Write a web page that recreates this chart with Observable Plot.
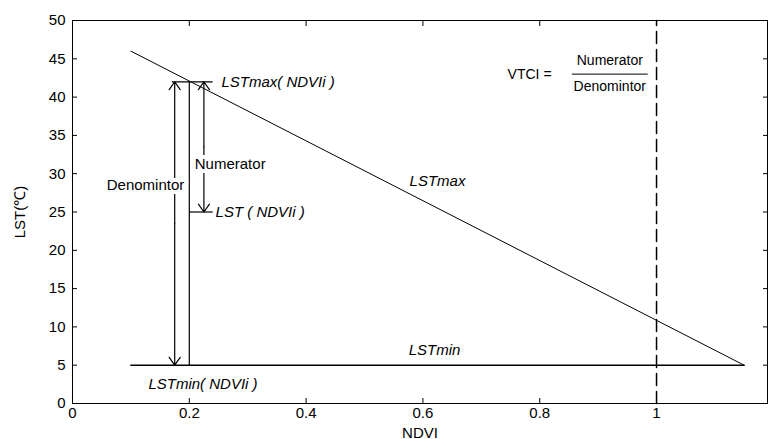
<!DOCTYPE html>
<html>
<head>
<meta charset="utf-8">
<script src="https://cdn.jsdelivr.net/npm/d3@7"></script>
<script src="https://cdn.jsdelivr.net/npm/@observablehq/plot@0.6"></script>
<style>
  body { margin: 0; background: #fff; }
  #vis svg { font-family: "Liberation Sans", Arial, sans-serif; }
</style>
</head>
<body>
<div id="vis"></div>
<script>
// lines of the VTCI sketch
const lstMax = [{x: 0.1, y: 46}, {x: 1.15, y: 5}]
const lstMin = [{x: 0.1, y: 5}, {x: 1.15, y: 5}]
const dashLine = [{x: 1, y: 0}, {x: 1, y: 50}]
const xTicks = [0, 0.2, 0.4, 0.6, 0.8, 1]
const yTicks = d3.range(0, 51, 5)
// arrows: x, from y, to y
const arrows = [
  {x: 0.175, y1: 23.5, y2: 42}, {x: 0.175, y1: 23.5, y2: 5},
  {x: 0.225, y1: 33.5, y2: 42}, {x: 0.225, y1: 33.5, y2: 25}
]
const rules = [
  {x1: 0.2, y1: 5, x2: 0.2, y2: 42},
  {x1: 0.17, y1: 42, x2: 0.24, y2: 42},
  {x1: 0.2, y1: 25, x2: 0.24, y2: 25}
]
const startLabels = [
  {x: 0.255, y: 42, text: 'LSTmax( NDVIi )'},
  {x: 0.245, y: 25, text: 'LST ( NDVIi )'},
  {x: 0.13, y: 2.5, text: 'LSTmin( NDVIi )'}
]
const midLabels = [
  {x: 0.625, y: 29, text: 'LSTmax'},
  {x: 0.62, y: 7, text: 'LSTmin'}
]
const boxLabels = [
  {x: 0.27, y: 31.3, text: 'Numerator'},
  {x: 0.125, y: 28.5, text: 'Denomintor'}
]
const fracLabels = [
  {x: 0.92, y: 44.8, text: 'Numerator'},
  {x: 0.92, y: 41.4, text: 'Denomintor'}
]

const chart = Plot.plot({
  width: 769,
  height: 439,
  marginLeft: 72,
  marginTop: 20,
  marginBottom: 36,
  marginRight: 2,
  style: {fontSize: '15px', color: '#000', background: '#fff'},
  x: {domain: [0, 1.19]},
  y: {domain: [0, 50]},
  marks: [
    Plot.frame({stroke: '#000'}),
    Plot.axisX({ticks: xTicks, tickSize: -5, tickPadding: 9, tickFormat: d => String(d), label: 'NDVI', labelAnchor: 'center', labelArrow: 'none', labelOffset: 34, fontSize: 15}),
    Plot.axisX({anchor: 'top', ticks: xTicks, tickSize: -5, tickFormat: () => '', label: null}),
    Plot.axisY({ticks: yTicks, tickSize: -5, tickPadding: 12, label: 'LST(℃)', labelAnchor: 'center', labelArrow: 'none', labelOffset: 58, fontSize: 15}),
    Plot.axisY({anchor: 'right', ticks: yTicks, tickSize: -5, tickFormat: () => '', label: null}),
    Plot.line(lstMax, {x: 'x', y: 'y', stroke: '#000', strokeWidth: 1}),
    Plot.line(lstMin, {x: 'x', y: 'y', stroke: '#000', strokeWidth: 1.5}),
    Plot.line(dashLine, {x: 'x', y: 'y', stroke: '#000', strokeWidth: 1.5, strokeDasharray: '12,6'}),
    Plot.link(rules, {x1: 'x1', y1: 'y1', x2: 'x2', y2: 'y2', stroke: '#000', strokeWidth: 1.2}),
    Plot.arrow(arrows, {x: 'x', y1: 'y1', y2: 'y2', stroke: '#000', strokeWidth: 1.2, headAngle: 70, headLength: 12}),
    Plot.text(boxLabels, {x: 'x', y: 'y', text: 'text', fill: '#000', stroke: '#fff', strokeWidth: 8, fontSize: 15}),
    Plot.text(startLabels, {x: 'x', y: 'y', text: 'text', textAnchor: 'start', fontStyle: 'italic', fill: '#000', fontSize: 15}),
    Plot.text(midLabels, {x: 'x', y: 'y', text: 'text', fontStyle: 'italic', fill: '#000', fontSize: 15}),
    Plot.text([{x: 0.745, y: 43, text: 'VTCI ='}], {x: 'x', y: 'y', text: 'text', textAnchor: 'start', fill: '#000', fontSize: 14}),
    Plot.text(fracLabels, {x: 'x', y: 'y', text: 'text', fill: '#000', fontSize: 14}),
    Plot.link([{x1: 0.855, x2: 0.985, y: 43}], {x1: 'x1', x2: 'x2', y1: 'y', y2: 'y', stroke: '#000', strokeWidth: 1})
  ]
})
d3.select('#vis').append(() => chart)
</script>
</body>
</html>
